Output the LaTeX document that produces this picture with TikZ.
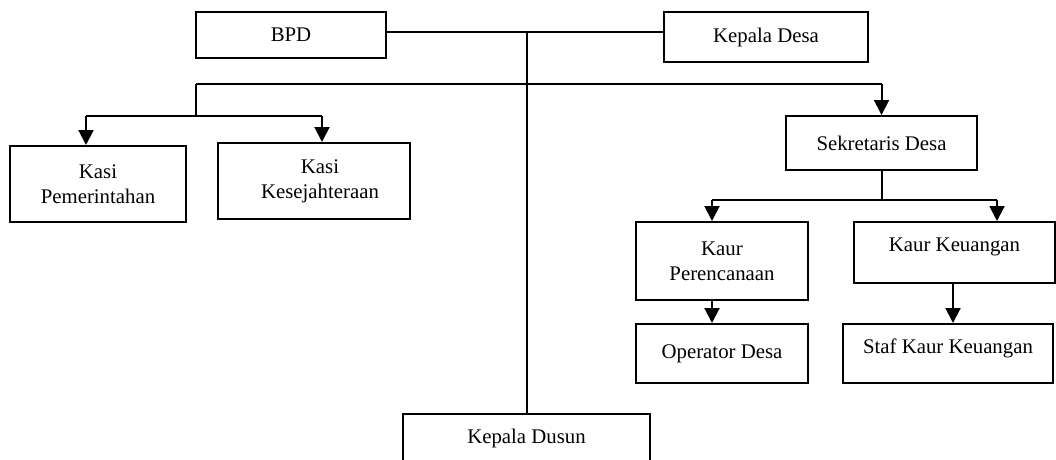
\documentclass[tikz,border=0pt]{standalone}
\usepackage{fontspec}
\setmainfont{Liberation Serif}
\usetikzlibrary{arrows.meta}
\tikzset{
  box/.style={draw, line width=2pt, rectangle, inner sep=0pt, align=center,
    font=\fontsize{20.8}{25}\selectfont},
  txt/.style={inner sep=0pt, align=center, font=\fontsize{20.8}{25}\selectfont},
  conn/.style={line width=2pt},
  arr/.style={line width=2pt, -{Triangle[width=15pt,length=15pt]}}
}
\begin{document}
\begin{tikzpicture}[x=1pt,y=-1pt]
\useasboundingbox (0,0) rectangle (1056,459);
\clip (0,0) rectangle (1056,459);
% boxes
\node[box, minimum width=190, minimum height=46] (bpd) at (291,35) {BPD};
\node[box, minimum width=204, minimum height=50] (kdesa) at (766,37) {Kepala Desa};
\node[box, minimum width=176, minimum height=76] (kpem) at (98,184) {Kasi\\Pemerintahan};
\node[box, minimum width=192, minimum height=76] (kkes) at (314,181) {};
\node[txt] (kkest) at (320,181) {Kasi\\Kesejahteraan};
\node[box, minimum width=191, minimum height=54] (sek) at (881.5,143) {Sekretaris Desa};
\node[box, minimum width=172, minimum height=78] (kper) at (722,261) {Kaur\\Perencanaan};
\node[box, minimum width=201, minimum height=61] (kkeu) at (954.5,252.5) {};
\node[txt] (kkeut) at (954.5,247) {Kaur Keuangan};
\node[box, minimum width=172, minimum height=59] (op) at (722,353.5) {Operator Desa};
\node[box, minimum width=210, minimum height=59] (staf) at (948,353.5) {};
\node[txt] (staft) at (948,348) {Staf Kaur Keuangan};
\node[box, minimum width=247, minimum height=60] (kdusun) at (526.5,444) {};
\node[txt] (kdusunt) at (526.5,438) {Kepala Dusun};
% connectors
\coordinate (top) at (526.5,32);
\draw[conn] (bpd.east |- top) -- (kdesa.west |- top);
\draw[conn] (top) -- (top |- kdusun.north);
\coordinate (hl) at (196,84);
\coordinate (hr) at (881.5,84);
\draw[conn] (hl) -- (hr);
\draw[arr] (hr) -- (sek.north);
\coordinate (hk) at (196,116);
\draw[conn] (hl) -- (hk);
\coordinate (a1) at (86,116);
\coordinate (a2) at (322,116);
\draw[conn] (a1) -- (a2);
\draw[arr] (a1) -- (a1 |- kpem.north);
\draw[arr] (a2) -- (a2 |- kkes.north);
\coordinate (sb) at (881.5,200);
\coordinate (b1) at (712,200);
\coordinate (b2) at (997,200);
\draw[conn] (sek.south) -- (sb);
\draw[conn] (b1) -- (b2);
\draw[arr] (b1) -- (b1 |- kper.north);
\draw[arr] (b2) -- (b2 |- kkeu.north);
\coordinate (c1) at (712,300);
\draw[arr] (c1) -- (c1 |- op.north);
\coordinate (c2) at (953,283);
\draw[arr] (c2) -- (c2 |- staf.north);
\end{tikzpicture}
\end{document}
